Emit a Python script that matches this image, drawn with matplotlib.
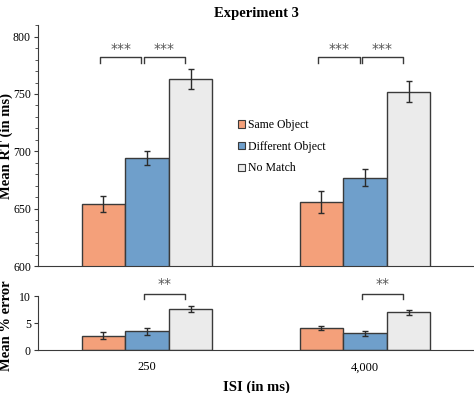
import numpy as np
import matplotlib.pyplot as plt
from matplotlib.patches import Patch

# values
isi_labels = ['250', '4,000']
conditions = ['Same Object', 'Different Object', 'No Match']
colors = ['#F4A07A', '#6F9FCB', '#EBEBEB']

rt_mean = [[654, 694, 763],
           [656, 677, 752]]
rt_err = [[7, 6, 9],
          [9.5, 7.5, 9]]

err_mean = [[2.7, 3.5, 7.6],
            [4.1, 3.1, 7.0]]
err_err = [[0.6, 0.6, 0.6],
           [0.4, 0.4, 0.4]]

# significance brackets: (group, cond_a, cond_b, label)
rt_sig = [(0, 0, 1, '***'), (0, 1, 2, '***'), (1, 0, 1, '***'), (1, 1, 2, '***')]
err_sig = [(0, 1, 2, '**'), (1, 1, 2, '**')]

plt.rcParams['font.family'] = ['Liberation Serif', 'DejaVu Serif']
plt.rcParams['font.size'] = 8.5

fig = plt.figure(figsize=(4.74, 3.93), dpi=100)
ax1 = fig.add_axes([0.080, 0.323, 0.92, 0.613])
ax2 = fig.add_axes([0.080, 0.109, 0.92, 0.178])

width = 0.2
groups = np.arange(len(isi_labels))
offsets = (np.arange(len(conditions)) - 1) * width


def draw(ax, means, errs):
    for c in range(len(conditions)):
        vals = [means[g][c] for g in groups]
        es = [errs[g][c] for g in groups]
        ax.bar(groups + offsets[c], vals, width, color=colors[c],
               edgecolor='#3a3a3a', linewidth=1.0, yerr=es,
               error_kw=dict(ecolor='#2b2b2b', capsize=2.5, elinewidth=1.0, capthick=1.0))


def brackets(ax, sigs, top, leg, star_y):
    for g, a, b, lab in sigs:
        lo = g + offsets[a] - 0.015
        hi = g + offsets[b] - 0.025
        ax.plot([lo, lo, hi, hi], [leg, top, top, leg], color='#3a3a3a', lw=1.0)
        ax.text((lo + hi) / 2, star_y, lab, ha='center', va='baseline',
                fontsize=10, color='#555555', family='DejaVu Sans')


draw(ax1, rt_mean, rt_err)
brackets(ax1, rt_sig, 782, 777, 786)
ax1.set_ylim(600, 810)
ax1.set_xlim(-0.5, 1.5)
ax1.set_yticks([600, 650, 700, 750, 800])
ax1.set_yticks(np.arange(600, 811, 10), minor=True)
ax1.set_xticks([])
ax1.spines['top'].set_visible(False)
ax1.spines['right'].set_visible(False)
ax1.spines['left'].set_bounds(600, 810)
ax1.spines['left'].set_color('#3a3a3a')
ax1.spines['bottom'].set_color('#3a3a3a')
ax1.tick_params(axis='y', which='both', direction='out', length=3, color='#3a3a3a', pad=2)
ax1.tick_params(axis='y', which='minor', length=2)
ax1.set_ylabel('Mean RT (in ms)', fontsize=10.5, fontweight='bold')
ax1.yaxis.set_label_coords(-0.057, 0.5)
ax1.set_title('Experiment 3', fontsize=10.5, fontweight='bold', pad=6)

draw(ax2, err_mean, err_err)
brackets(ax2, err_sig, 10.5, 9.6, 11.6)
ax2.set_ylim(0, 13)
ax2.set_xlim(-0.5, 1.5)
ax2.set_yticks([0, 5, 10])
ax2.set_xticks(groups)
ax2.set_xticklabels(isi_labels, fontsize=9)
ax2.tick_params(axis='x', length=0, pad=8)
ax2.tick_params(axis='y', direction='out', length=3, color='#3a3a3a', pad=2)
ax2.spines['top'].set_visible(False)
ax2.spines['right'].set_visible(False)
ax2.spines['left'].set_bounds(0, 10)
ax2.spines['left'].set_color('#3a3a3a')
ax2.spines['bottom'].set_color('#3a3a3a')
ax2.set_ylabel('Mean % error', fontsize=10.5, fontweight='bold')
ax2.yaxis.set_label_coords(-0.057, 0.35)
ax2.set_xlabel('ISI (in ms)', fontsize=10.5, fontweight='bold', labelpad=5)

handles = [Patch(facecolor=colors[i], edgecolor='#3a3a3a', linewidth=0.8) for i in range(3)]
fig.legend(handles, conditions, loc='upper left', bbox_to_anchor=(0.492, 0.709),
           frameon=False, handlelength=0.6, handleheight=0.6, handletextpad=0.25,
           labelspacing=0.82, fontsize=8.5, borderaxespad=0)

fig.savefig('out.png', dpi=100)
